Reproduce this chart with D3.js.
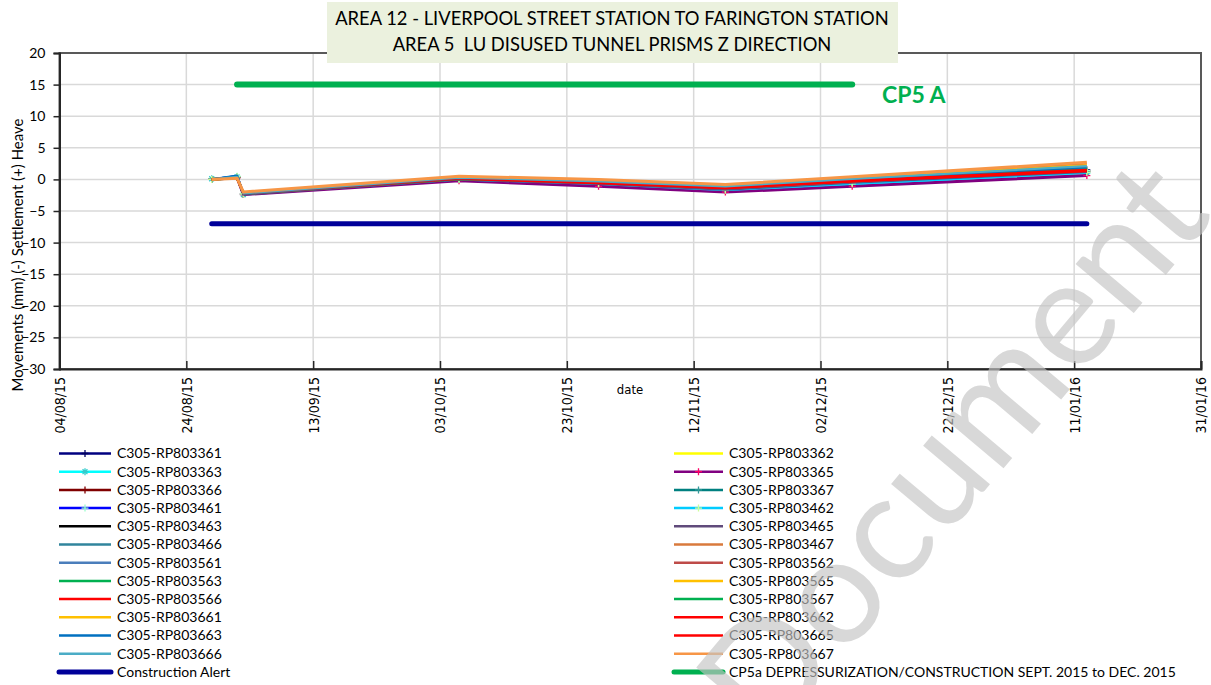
<!DOCTYPE html>
<html>
<head>
<meta charset="utf-8">
<script src="https://cdn.jsdelivr.net/npm/d3@7/dist/d3.min.js"></script>
<style>
  html, body { margin: 0; padding: 0; background: #fff; }
  svg { display: block; }
  text { font-family: Lato, "Open Sans", sans-serif; fill: #000; }
  .tick-x { font-family: "DejaVu Sans Condensed", "Liberation Sans Narrow", "Open Sans", sans-serif; }
</style>
</head>
<body>
<svg id="chart" width="1211" height="685"></svg>
<script>
// Survey dates (dd/mm/yy)
const surveyDates = ["28/08/15", "01/09/15", "02/09/15", "06/10/15", "28/10/15", "17/11/15", "07/12/15", "13/01/16"];

// Vertical movement (mm) of each prism at the survey dates
const rp803361 = [0.0, 0.4, -2.3, 0.1, -0.6, -1.5, -0.4, 1.5];
const rp803362 = [0.0, 0.2, -2.2, 0.2, -0.5, -1.4, -0.3, 1.9];
const rp803363 = [0.1, 0.4, -2.4, 0.0, -0.8, -1.7, -0.8, 1.0];
const rp803365 = [0.0, 0.3, -2.4, -0.2, -1.1, -2.0, -1.1, 0.6];
const rp803366 = [0.0, 0.3, -2.3, 0.1, -0.6, -1.4, -0.4, 1.3];
const rp803367 = [0.0, 0.4, -2.3, 0.0, -0.6, -1.5, -0.5, 1.2];
const rp803461 = [0.0, 0.5, -2.3, 0.1, -0.6, -1.5, -0.5, 1.4];
const rp803462 = [0.0, 0.4, -2.3, 0.0, -0.7, -1.7, -0.7, 1.1];
const rp803463 = [0.0, 0.3, -2.3, 0.1, -0.6, -1.5, -0.4, 1.3];
const rp803465 = [0.0, 0.3, -2.4, 0.0, -0.7, -1.6, -0.5, 1.2];
const rp803466 = [0.0, 0.4, -2.3, 0.1, -0.5, -1.4, -0.4, 1.5];
const rp803467 = [0.0, 0.3, -2.1, 0.4, -0.1, -0.9, 0.3, 2.5];
const rp803561 = [0.0, 0.5, -2.2, 0.2, -0.4, -1.2, -0.1, 1.8];
const rp803562 = [0.0, 0.3, -2.3, 0.2, -0.4, -1.3, -0.1, 1.7];
const rp803563 = [-0.1, 0.3, -2.3, 0.1, -0.5, -1.3, -0.2, 1.6];
const rp803565 = [0.1, 0.3, -2.2, 0.3, -0.2, -1.0, 0.2, 2.2];
const rp803566 = [0.0, 0.3, -2.2, 0.2, -0.5, -1.4, -0.3, 1.4];
const rp803567 = [0.0, 0.2, -2.2, 0.1, -0.4, -1.2, -0.1, 1.7];
const rp803661 = [0.0, 0.2, -2.1, 0.3, -0.2, -1.1, 0.1, 2.0];
const rp803662 = [0.0, 0.2, -2.3, 0.1, -0.6, -1.4, -0.3, 1.3];
const rp803663 = [0.0, 0.6, -2.3, 0.2, -0.3, -1.2, 0.0, 1.9];
const rp803665 = [0.0, 0.3, -2.2, 0.2, -0.5, -1.3, -0.2, 1.5];
const rp803666 = [0.0, 0.4, -2.2, 0.3, -0.3, -1.1, 0.1, 2.1];
const rp803667 = [0.0, 0.2, -2.0, 0.5, 0.0, -0.8, 0.4, 2.7];

// Construction alert level and CP5a depressurization window
const alertDates = ["28/08/15", "13/01/16"];
const alertValues = [-7, -7];
const cp5aDates = ["01/09/15", "07/12/15"];
const cp5aValues = [15, 15];

// Axis ticks
const xTickLabels = ["04/08/15", "24/08/15", "13/09/15", "03/10/15", "23/10/15", "12/11/15", "02/12/15", "22/12/15", "11/01/16", "31/01/16"];
const yTickValues = [20, 15, 10, 5, 0, -5, -10, -15, -20, -25, -30];

const titleLines = ["AREA 12 - LIVERPOOL STREET STATION TO FARINGTON STATION", "AREA 5  LU DISUSED TUNNEL PRISMS Z DIRECTION"];

// Series definitions (plotting order), with line colour and marker style
const series = [
  { name: "C305-RP803361", values: rp803361, color: "#000080", marker: "plus", mcolor: "#000060" },
  { name: "C305-RP803362", values: rp803362, color: "#FFFF00" },
  { name: "C305-RP803363", values: rp803363, color: "#00FFFF", marker: "star", mcolor: "#33CCCC" },
  { name: "C305-RP803365", values: rp803365, color: "#800080", marker: "plus", mcolor: "#FF0066", width: 3 },
  { name: "C305-RP803366", values: rp803366, color: "#800000", marker: "plus", mcolor: "#800000" },
  { name: "C305-RP803367", values: rp803367, color: "#008080", marker: "plus", mcolor: "#339999" },
  { name: "C305-RP803461", values: rp803461, color: "#0000FF", marker: "plus", mcolor: "#99FFCC" },
  { name: "C305-RP803462", values: rp803462, color: "#00CCFF", marker: "plus", mcolor: "#CCFF99" },
  { name: "C305-RP803463", values: rp803463, color: "#000000" },
  { name: "C305-RP803465", values: rp803465, color: "#604A7B" },
  { name: "C305-RP803466", values: rp803466, color: "#31859C" },
  { name: "C305-RP803467", values: rp803467, color: "#D97A3C" },
  { name: "C305-RP803561", values: rp803561, color: "#4A7EBB" },
  { name: "C305-RP803562", values: rp803562, color: "#BE4B48" },
  { name: "C305-RP803563", values: rp803563, color: "#00B050" },
  { name: "C305-RP803565", values: rp803565, color: "#FFC000" },
  { name: "C305-RP803566", values: rp803566, color: "#FF0000" },
  { name: "C305-RP803567", values: rp803567, color: "#00B050" },
  { name: "C305-RP803661", values: rp803661, color: "#FFC000" },
  { name: "C305-RP803662", values: rp803662, color: "#FF0000" },
  { name: "C305-RP803663", values: rp803663, color: "#0070C0" },
  { name: "C305-RP803665", values: rp803665, color: "#FF0000" },
  { name: "C305-RP803666", values: rp803666, color: "#4BACC6" },
  { name: "C305-RP803667", values: rp803667, color: "#F79646", width: 3 }
];
const alertSeries = { name: "Construction Alert", color: "#000099" };
const cp5aSeries = { name: "CP5a DEPRESSURIZATION/CONSTRUCTION SEPT. 2015 to DEC. 2015", color: "#00B050" };

const parse = d3.utcParse("%d/%m/%y");
const svg = d3.select("#chart");

const plot = { left: 59.5, right: 1201, top: 53, bottom: 369 };
const x = d3.scaleUtc().domain([parse(xTickLabels[0]), parse(xTickLabels[xTickLabels.length - 1])]).range([plot.left, plot.right]);
const y = d3.scaleLinear().domain([-30, 20]).range([plot.bottom, plot.top]);

// Gridlines
const grid = svg.append("g");
grid.selectAll("line.h").data(yTickValues).join("line")
  .attr("x1", plot.left).attr("x2", plot.right)
  .attr("y1", d => y(d)).attr("y2", d => y(d))
  .attr("stroke", "#D9D9D9").attr("stroke-width", 1.5);
grid.selectAll("line.v").data(xTickLabels).join("line")
  .attr("x1", d => x(parse(d))).attr("x2", d => x(parse(d)))
  .attr("y1", plot.top).attr("y2", plot.bottom)
  .attr("stroke", "#D9D9D9").attr("stroke-width", 1.5);

// Plot frame
svg.append("rect")
  .attr("x", plot.left).attr("y", plot.top)
  .attr("width", plot.right - plot.left).attr("height", plot.bottom - plot.top)
  .attr("fill", "none").attr("stroke", "#595959").attr("stroke-width", 2);

// Y axis
const yAxis = d3.axisLeft(y).tickValues(yTickValues).tickSize(6).tickPadding(8).tickFormat(d3.format("d"));
const gy = svg.append("g").attr("transform", `translate(${plot.left},0)`).call(yAxis);
gy.select(".domain").attr("stroke", "#262626").attr("stroke-width", 2);
gy.selectAll(".tick line").attr("stroke", "#262626").attr("stroke-width", 1.5);
gy.selectAll(".tick text").attr("font-family", "Lato, sans-serif").attr("font-size", 14).attr("fill", "#000");

// X axis (ticks point inward, labels rotated)
const xAxis = d3.axisBottom(x).tickValues(xTickLabels.map(parse)).tickSize(-8).tickFormat(d3.utcFormat("%d/%m/%y"));
const gx = svg.append("g").attr("transform", `translate(0,${plot.bottom})`).call(xAxis);
gx.select(".domain").attr("stroke", "#262626").attr("stroke-width", 2);
gx.selectAll(".tick line").attr("stroke", "#262626").attr("stroke-width", 1.5);
gx.selectAll(".tick text")
  .attr("class", "tick-x")
  .attr("font-size", 14).attr("fill", "#000")
  .attr("text-anchor", "end")
  .attr("transform", "rotate(-90)")
  .attr("x", -8).attr("y", 0).attr("dy", "0.35em");

svg.append("text").attr("class", "tick-x")
  .attr("x", 630).attr("y", 394).attr("text-anchor", "middle")
  .attr("font-size", 13).text("date");

// Y axis title
svg.append("text")
  .attr("transform", "translate(18,255) rotate(-90)")
  .attr("text-anchor", "middle").attr("dy", "0.35em")
  .attr("font-size", 15)
  .text("Movements (mm) (-) Settlement (+) Heave");

// Data lines
const line = d3.line().x(d => x(d.date)).y(d => y(d.v));
const asPoints = (dates, vals) => dates.map((d, i) => ({ date: parse(d), v: vals[i] }));

function drawMarker(g, type, cx, cy, color, size) {
  const s = size / 2;
  const p = d3.path();
  p.moveTo(cx - s, cy); p.lineTo(cx + s, cy);
  p.moveTo(cx, cy - s); p.lineTo(cx, cy + s);
  if (type === "star") {
    p.moveTo(cx - s * 0.7, cy - s * 0.7); p.lineTo(cx + s * 0.7, cy + s * 0.7);
    p.moveTo(cx - s * 0.7, cy + s * 0.7); p.lineTo(cx + s * 0.7, cy - s * 0.7);
  }
  g.append("path").attr("d", p.toString()).attr("stroke", color).attr("stroke-width", 1.3).attr("fill", "none");
}

const gLines = svg.append("g");
series.forEach(s => {
  const pts = asPoints(surveyDates, s.values);
  gLines.append("path").datum(pts)
    .attr("d", line).attr("fill", "none")
    .attr("stroke", s.color).attr("stroke-width", s.width || 2.25)
    .attr("stroke-linejoin", "round");
  if (s.marker) {
    pts.forEach(p => drawMarker(gLines, s.marker, x(p.date), y(p.v), s.mcolor, 7));
  }
});

svg.append("path").datum(asPoints(alertDates, alertValues))
  .attr("d", line).attr("fill", "none")
  .attr("stroke", alertSeries.color).attr("stroke-width", 5).attr("stroke-linecap", "round");
svg.append("path").datum(asPoints(cp5aDates, cp5aValues))
  .attr("d", line).attr("fill", "none")
  .attr("stroke", cp5aSeries.color).attr("stroke-width", 6).attr("stroke-linecap", "round");

svg.append("text")
  .attr("x", 882).attr("y", 103)
  .attr("font-size", 23).attr("font-weight", "bold")
  .style("fill", "#00B050")
  .text("CP5 A");

// Title box
svg.append("rect").attr("x", 327).attr("y", 2).attr("width", 571).attr("height", 61).attr("fill", "#EBF1DE");
let titleSize = 17;
titleLines.forEach((t, i) => {
  const el = svg.append("text")
    .attr("x", 612).attr("y", 25 + i * 26)
    .attr("text-anchor", "middle").attr("font-size", titleSize)
    .style("white-space", "pre")
    .text(t);
  if (i === 0) {
    // scale the heading so the first line spans the box width
    titleSize = titleSize * 554 / el.node().getComputedTextLength();
    el.attr("font-size", titleSize);
  }
});

// Legend (two columns)
const legendItems = series.map(s => ({ name: s.name, color: s.color, marker: s.marker, mcolor: s.mcolor, width: 2.5 }));
const leftCol = legendItems.filter((d, i) => i % 2 === 0).concat([{ name: alertSeries.name, color: alertSeries.color, width: 5, round: true }]);
const rightCol = legendItems.filter((d, i) => i % 2 === 1).concat([{ name: cp5aSeries.name, color: cp5aSeries.color, width: 5, round: true }]);
const gLeg = svg.append("g");
function drawLegendColumn(items, x0, x1, tx) {
  items.forEach((d, i) => {
    const cy = 453.5 + i * 18.2;
    gLeg.append("line").attr("x1", x0).attr("x2", x1).attr("y1", cy).attr("y2", cy)
      .attr("stroke", d.color).attr("stroke-width", d.width)
      .attr("stroke-linecap", d.round ? "round" : "butt");
    if (d.marker) drawMarker(gLeg, d.marker, (x0 + x1) / 2, cy, d.mcolor, 7);
    gLeg.append("text").attr("x", tx).attr("y", cy).attr("dy", "0.35em")
      .attr("font-size", 14).text(d.name);
  });
}
drawLegendColumn(leftCol, 59, 111, 117);
drawLegendColumn(rightCol, 674, 723, 729);

// Watermark
svg.append("text")
  .attr("transform", "translate(952,448) rotate(-50)")
  .attr("text-anchor", "middle").attr("dy", "0.35em")
  .attr("font-family", "'Open Sans', sans-serif")
  .attr("font-size", 150)
  .style("fill", "#c4c4c4").attr("opacity", 0.65)
  .text("Document");
</script>
</body>
</html>
